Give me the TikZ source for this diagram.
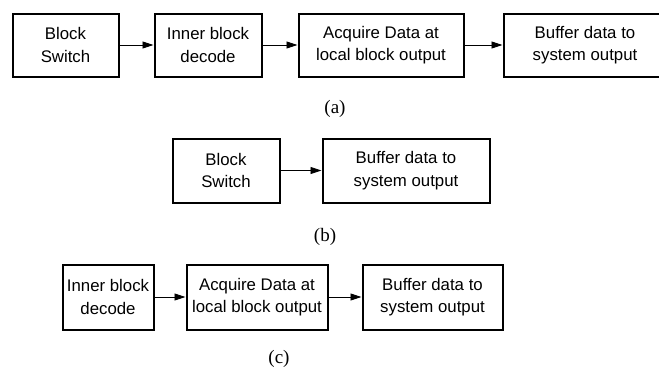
\documentclass[tikz,border=0pt]{standalone}
\usepackage{fontspec}
\setmainfont{Liberation Sans}
\newfontfamily\capfont{Liberation Serif}
\usetikzlibrary{arrows.meta}

\tikzset{
  blk/.style={draw, line width=2pt, inner sep=0pt, align=center,
    minimum height=63pt, font=\fontsize{16.8}{22.5}\selectfont},
  flow/.style={-{Triangle[length=11pt,width=7pt]}, line width=0.9pt},
  subcap/.style={font=\capfont\fontsize{19}{21}\selectfont}
}

\begin{document}
\begin{tikzpicture}[x=1pt,y=-1pt]
  \useasboundingbox (0,0) rectangle (659,370);
  % (a) the whole chain.
  \node[blk, minimum width=106pt] (a1) at (65.5,45) {Block\\Switch};
  \node[blk, minimum width=107pt] (a2) at (208,45) {Inner block\\decode};
  \node[blk, minimum width=165pt] (a3) at (381,45) {Acquire Data at\\local block output};
  \node[blk, minimum width=163pt] (a4) at (585,45) {Buffer data to\\system output};
  \foreach \i/\j in {a1/a2,a2/a3,a3/a4} \draw[flow] (\i) -- (\j);
  \node[subcap] (capa) at (335,109) {(a)};
  % (b) switch straight to the buffer.
  \node[blk, minimum width=107pt, minimum height=64pt] (b1) at (226,170.5) {Block\\Switch};
  \node[blk, minimum width=167pt, minimum height=64pt] (b2) at (406,170.5) {Buffer data to\\system output};
  \draw[flow] (b1) -- (b2);
  \node[subcap] (capb) at (325,237) {(b)};
  % (c) without the switch.
  \node[blk, minimum width=91pt, minimum height=65pt] (c1) at (108,297) {Inner block\\decode};
  \node[blk, minimum width=141pt, minimum height=65pt] (c2) at (257,297) {Acquire Data at\\local block output};
  \node[blk, minimum width=140pt, minimum height=65pt] (c3) at (432.5,297) {Buffer data to\\system output};
  \foreach \i/\j in {c1/c2,c2/c3} \draw[flow] (\i) -- (\j);
  \node[subcap] (capc) at (279,359) {(c)};
\end{tikzpicture}
\end{document}
